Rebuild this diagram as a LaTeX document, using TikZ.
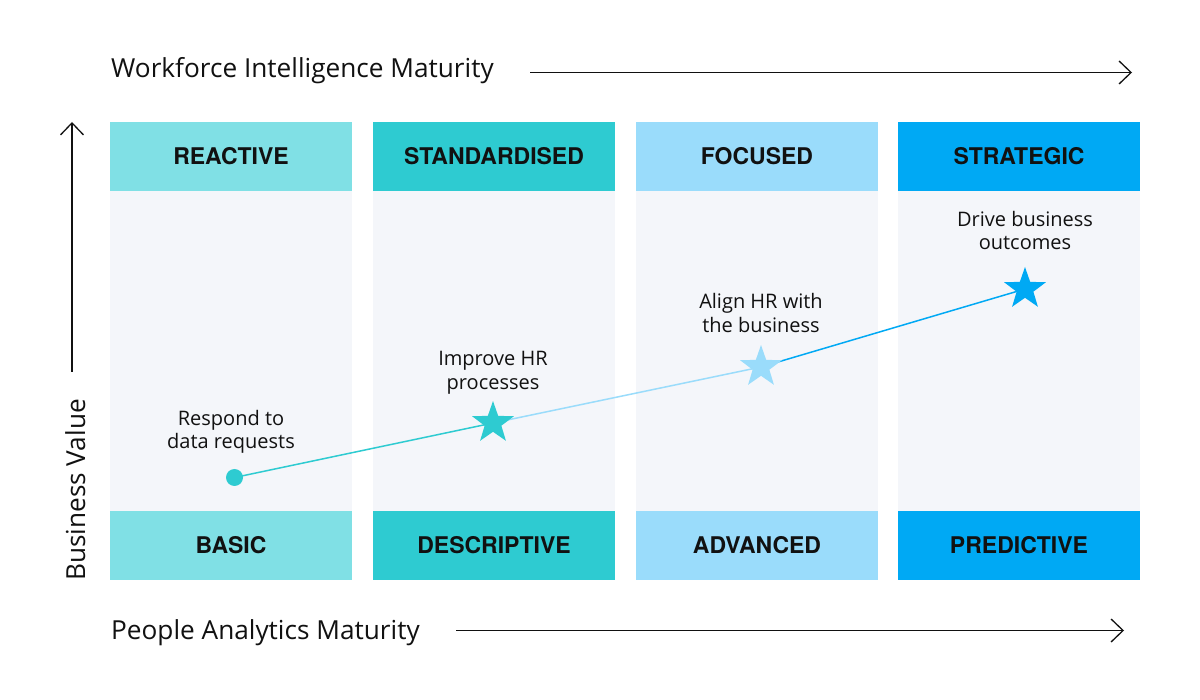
\documentclass[tikz,border=0pt]{standalone}
\usepackage{fontspec}
\setmainfont{Open Sans}
\newfontfamily\headfont{TeX Gyre Heros}
\usepackage{xcolor}
\usepackage{tikz}
\usetikzlibrary{shapes,arrows.meta,positioning}

\definecolor{reactcol}{HTML}{80E0E5}
\definecolor{standcol}{HTML}{2ECBD1}
\definecolor{focuscol}{HTML}{9ADCFB}
\definecolor{stratcol}{HTML}{00A9F4}
\definecolor{panelcol}{HTML}{F4F6FA}
\definecolor{inkcol}{HTML}{111111}

\begin{document}
\begin{tikzpicture}[x=1pt,y=-1pt,
    colhead/.style={rectangle, minimum width=242pt, minimum height=69pt, inner sep=0pt,
        text=inkcol, font=\headfont\fontsize{23}{27}\selectfont\bfseries},
    axislabel/.style={text=inkcol, inner sep=0pt, font=\fontsize{26.2}{30}\selectfont},
    axisarrow/.style={line width=1.3pt, inkcol, -{Straight Barb[length=12pt,width=23pt,line width=1.3pt]}},
    steplabel/.style={text=inkcol, inner sep=0pt, align=center, font=\fontsize{20}{23.5}\selectfont},
    goalstar/.style={star, star points=5, star point ratio=2.5, minimum size=44pt, inner sep=0pt},
    link/.style={line width=1.5pt}]

    \fill[white] (0,0) rectangle (1200,700);
    \useasboundingbox (0,0) rectangle (1200,700);

    % Column panels
    \fill[panelcol] (110,122) rectangle (352,580);
    \fill[panelcol] (373,122) rectangle (615,580);
    \fill[panelcol] (636,122) rectangle (878,580);
    \fill[panelcol] (898,122) rectangle (1140,580);

    % Workforce intelligence stages (top)
    \node[colhead, fill=reactcol] (reactive) at (231,156.5) {REACTIVE};
    \node[colhead, fill=standcol] (standard) at (494,156.5) {STANDARDISED};
    \node[colhead, fill=focuscol] (focused) at (757,156.5) {FOCUSED};
    \node[colhead, fill=stratcol] (strategic) at (1019,156.5) {STRATEGIC};

    % People analytics stages (bottom)
    \node[colhead, fill=reactcol] (basic) at (231,545) {BASIC};
    \node[colhead, fill=standcol] (descriptive) at (494,545) {DESCRIPTIVE};
    \node[colhead, fill=focuscol] (advanced) at (757,545) {ADVANCED};
    \node[colhead, fill=stratcol] (predictive) at (1019,545) {PREDICTIVE};

    % Axes
    \node[axislabel, anchor=base west] (wim) at (111,78) {Workforce Intelligence Maturity};
    \coordinate (wimstart) at (530,72.5);
    \coordinate (wimend) at (1132,72.5);
    \draw[axisarrow] (wimstart) -- (wimend);

    \node[axislabel, anchor=base west] (pam) at (111,639) {People Analytics Maturity};
    \coordinate (pamstart) at (456,630.5);
    \coordinate (pamend) at (1124,630.5);
    \draw[axisarrow] (pamstart) -- (pamend);

    \node[axislabel, rotate=90, anchor=base] (bv) at (85,490) {Business Value};
    \coordinate (bvstart) at (72,372);
    \coordinate (bvend) at (72,122);
    \draw[axisarrow] (bvstart) -- (bvend);

    % Value path
    \coordinate (p1) at (234.5,477.5);
    \coordinate (p2) at (493,423);
    \coordinate (p3) at (761,367);
    \coordinate (p4) at (1025,289);
    \draw[link, standcol] (p1) -- (p2);
    \draw[link, focuscol] (p2) -- (p3);
    \draw[link, stratcol] (p3) -- (p4);

    \node[circle, fill=standcol, minimum size=17pt, inner sep=0pt] (respond) at (p1) {};
    \node[goalstar, fill=standcol] (improve) at (p2) {};
    \node[goalstar, fill=focuscol] (align) at (p3) {};
    \node[goalstar, fill=stratcol] (drive) at (p4) {};

    \node[steplabel] (respondtxt) at (231,432) {Respond to\\data requests};
    \node[steplabel] (improvetxt) at (493,373) {Improve HR\\processes};
    \node[steplabel] (aligntxt) at (761,313) {Align HR with\\the business};
    \node[steplabel] (drivetxt) at (1025,230.5) {Drive business\\outcomes};
\end{tikzpicture}
\end{document}
